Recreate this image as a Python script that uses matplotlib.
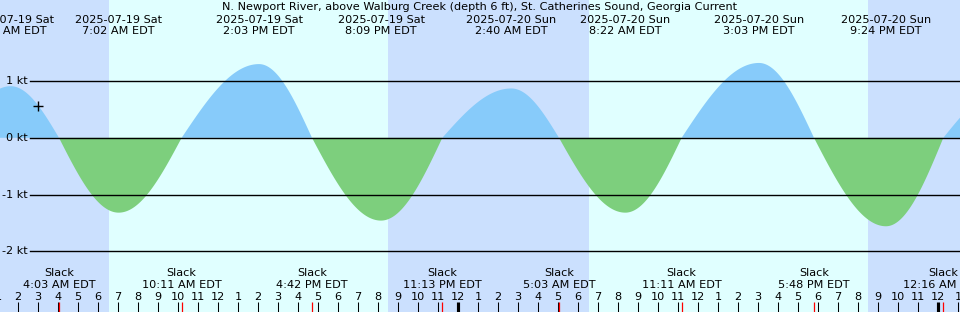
import numpy as np
import matplotlib
matplotlib.use("Agg")
import matplotlib.pyplot as plt
from matplotlib import transforms

# ---------------- data ----------------
title = "N. Newport River, above Walburg Creek (depth 6 ft), St. Catherines Sound, Georgia Current"

# maximum-current events (day offset from 2025-07-19, clock time, speed in knots)
max_days = [0, 0, 0, 0, 1, 1, 1, 1]
max_dates = ["2025-07-19 Sat", "2025-07-19 Sat", "2025-07-19 Sat", "2025-07-19 Sat",
             "2025-07-20 Sun", "2025-07-20 Sun", "2025-07-20 Sun", "2025-07-20 Sun"]
max_times = ["1:38 AM", "7:02 AM", "2:03 PM", "8:09 PM", "2:40 AM",
             "8:22 AM", "3:03 PM", "9:24 PM"]
max_speeds = [0.91, -1.32, 1.30, -1.46, 0.87, -1.32, 1.32, -1.56]

# slack events
slack_days = [0, 0, 0, 0, 1, 1, 1, 2]
slack_times = ["4:03 AM", "10:11 AM", "4:42 PM", "11:13 PM", "5:03 AM",
               "11:11 AM", "5:48 PM", "12:16 AM"]

# events just outside the visible window (slack before, flood max after)
edge_days = [-1, 2]
edge_times = ["10:55 PM", "3:30 AM"]
edge_speeds = [0.0, 0.90]

# sunrise / sunset
sun_days = [0, 0, 1, 1]
sun_times = ["6:33 AM", "8:30 PM", "6:33 AM", "8:30 PM"]

# current-time marker
now_day, now_time = 0, "3:01 AM"

y_ticks = [1, 0, -1, -2]
y_tick_labels = ["1 kt", "0 kt", "-1 kt", "-2 kt"]

# ---------------- helpers ----------------
def to_hours(day, t):
    hm, ap = t.split()
    h, m = hm.split(":")
    h = int(h) % 12 + (12 if ap == "PM" else 0)
    return day * 24 + h + int(m) / 60.0

max_h = [to_hours(d, t) for d, t in zip(max_days, max_times)]
slack_h = [to_hours(d, t) for d, t in zip(slack_days, slack_times)]
edge_h = [to_hours(d, t) for d, t in zip(edge_days, edge_times)]
sun_h = [to_hours(d, t) for d, t in zip(sun_days, sun_times)]
now_h = to_hours(now_day, now_time)

ev_t = np.array(max_h + slack_h + edge_h)
ev_v = np.array(max_speeds + [0.0] * len(slack_h) + edge_speeds)
order = np.argsort(ev_t)
ev_t, ev_v = ev_t[order], ev_v[order]

# curve: quarter-wave between consecutive slack / maximum events
t = np.linspace(ev_t[0], ev_t[-1], 6000)
v = np.zeros_like(t)
for i in range(len(ev_t) - 1):
    a, b = ev_t[i], ev_t[i + 1]
    m = (t >= a) & (t <= b)
    u = (t[m] - a) / (b - a)
    if ev_v[i] == 0:
        v[m] = ev_v[i + 1] * np.sin(np.pi / 2 * u)
    else:
        v[m] = ev_v[i] * np.cos(np.pi / 2 * u)

now_v = np.interp(now_h, t, v)

# ---------------- figure ----------------
W, H = 960, 312
fig = plt.figure(figsize=(W / 100, H / 100), dpi=100)
ax = fig.add_axes([0, 0, 1, 1])
ax.set_axis_off()

PX_PER_H = 20.0
x0 = 1.1
ZERO_PX, PX_PER_KT = 137.8, 56.7
ax.set_xlim(x0, x0 + W / PX_PER_H)
ax.set_ylim(-(H - ZERO_PX) / PX_PER_KT, ZERO_PX / PX_PER_KT)

night = "#cbe0fe"
day = "#e0ffff"
flood = "#87cbfa"
ebb = "#7dcf7d"

ax.axvspan(-100, 100, color=day, zorder=0, lw=0)
ax.axvspan(-100, sun_h[0], color=night, zorder=0.5, lw=0)
ax.axvspan(sun_h[1], sun_h[2], color=night, zorder=0.5, lw=0)
ax.axvspan(sun_h[3], 100, color=night, zorder=0.5, lw=0)

ax.fill_between(t, 0, v, where=v >= 0, color=flood, lw=0, interpolate=True, zorder=1)
ax.fill_between(t, 0, v, where=v <= 0, color=ebb, lw=0, interpolate=True, zorder=1)

for yv in y_ticks:
    ax.axhline(yv, xmin=30 / W, xmax=1, color="black", lw=1.0, zorder=2)

fs = 8.1
font = "DejaVu Sans"
ftr = transforms.blended_transform_factory(ax.transData, fig.transFigure)
def fy(px):
    return 1 - px / H

for yv, lab in zip(y_ticks, y_tick_labels):
    ax.text(28 / W, yv, lab, transform=transforms.blended_transform_factory(fig.transFigure, ax.transData),
            ha="right", va="center", fontsize=fs, family=font, zorder=3)

ax.plot([now_h], [now_v], marker="+", color="black", ms=7, mew=1.0, zorder=4)

fig.text(0.5, fy(7), title, ha="center", va="center", fontsize=fs, family=font)

for h, dlab, tlab in zip(max_h, max_dates, max_times):
    ax.text(h, fy(20), dlab, transform=ftr, ha="center", va="center", fontsize=fs, family=font, zorder=3)
    ax.text(h, fy(31.5), tlab + " EDT", transform=ftr, ha="center", va="center", fontsize=fs, family=font, zorder=3)

for h, tlab in zip(slack_h, slack_times):
    ax.text(h, fy(273.5), "Slack", transform=ftr, ha="center", va="center", fontsize=fs, family=font, zorder=3)
    ax.text(h, fy(285.5), tlab + " EDT", transform=ftr, ha="center", va="center", fontsize=fs, family=font, zorder=3)

# hour ticks
for hr in range(0, 51):
    lab = str((hr % 12) or 12)
    lw = 3.0 if hr % 24 == 0 else 1.0
    ax.add_line(plt.Line2D([hr, hr], [fy(302), fy(313)], transform=ftr, color="black", lw=lw * 0.75, zorder=3,
                           solid_capstyle="butt"))
    ax.text(hr, fy(297), lab, transform=ftr, ha="center", va="center", fontsize=fs, family=font, zorder=3)

for h in slack_h:
    ax.add_line(plt.Line2D([h, h], [fy(302), fy(313)], transform=ftr, color="red", lw=0.9, zorder=3,
                           solid_capstyle="butt"))

fig.savefig("out.png", dpi=100)
